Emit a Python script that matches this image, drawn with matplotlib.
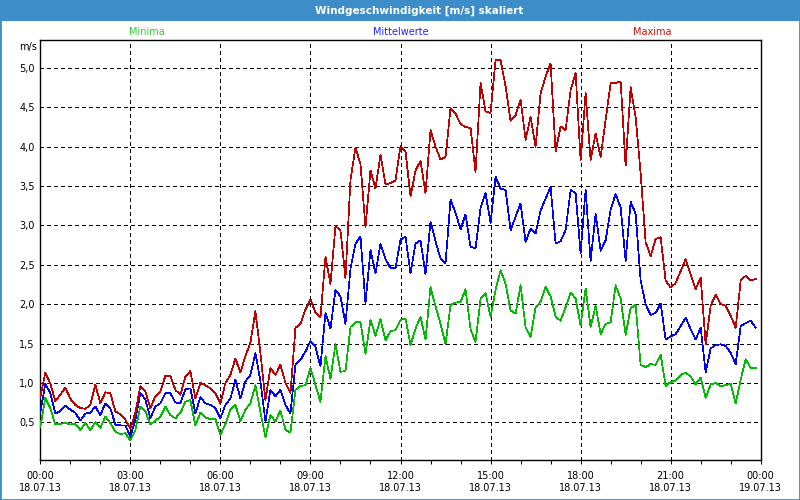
'''
Windgeschwindigkeit 18.07.13 - Minima, Mittelwerte, Maxima (10-Minuten-Werte)
'''
import numpy as np
import matplotlib.pyplot as plt
from matplotlib.patches import Rectangle

# 10-minute values, 00:00 .. 23:50
maxima = [
    0.82, 1.13, 0.99, 0.77, 0.85, 0.94, 0.80, 0.72, 0.68, 0.67,
    0.72, 0.98, 0.74, 0.88, 0.87, 0.64, 0.60, 0.53, 0.42, 0.62,
    0.96, 0.89, 0.68, 0.83, 0.89, 1.09, 1.09, 0.91, 0.85, 1.08,
    1.15, 0.80, 1.00, 0.97, 0.93, 0.87, 0.74, 1.00, 1.10, 1.31,
    1.13, 1.34, 1.51, 1.91, 1.38, 0.78, 1.19, 1.10, 1.23, 1.00,
    0.87, 1.70, 1.75, 1.93, 2.06, 1.89, 1.83, 2.60, 2.26, 2.99,
    2.94, 2.33, 3.58, 3.99, 3.78, 2.98, 3.70, 3.47, 3.90, 3.52,
    3.54, 3.57, 4.01, 3.94, 3.37, 3.70, 3.82, 3.41, 4.21, 4.00,
    3.84, 3.87, 4.49, 4.42, 4.29, 4.25, 4.24, 3.68, 4.81, 4.45,
    4.43, 5.10, 5.10, 4.77, 4.33, 4.40, 4.60, 4.09, 4.38, 4.00,
    4.68, 4.89, 5.06, 3.94, 4.26, 4.21, 4.72, 4.94, 3.83, 4.68,
    3.83, 4.17, 3.87, 4.34, 4.81, 4.81, 4.83, 3.76, 4.76, 4.38,
    3.66, 2.79, 2.61, 2.83, 2.85, 2.30, 2.21, 2.27, 2.42, 2.57,
    2.38, 2.19, 2.34, 1.49, 1.98, 2.12, 2.00, 1.98, 1.85, 1.70,
    2.30, 2.36, 2.30, 2.32,
]
mittelwerte = [
    0.62, 0.99, 0.87, 0.61, 0.64, 0.71, 0.66, 0.62, 0.52, 0.61,
    0.62, 0.70, 0.59, 0.74, 0.68, 0.47, 0.46, 0.46, 0.32, 0.53,
    0.87, 0.79, 0.55, 0.70, 0.74, 0.87, 0.87, 0.75, 0.74, 0.92,
    0.93, 0.61, 0.82, 0.74, 0.72, 0.68, 0.55, 0.72, 0.80, 1.04,
    0.80, 1.02, 1.10, 1.38, 1.02, 0.51, 0.91, 0.83, 0.91, 0.72,
    0.61, 1.23, 1.29, 1.40, 1.53, 1.46, 1.21, 1.89, 1.69, 2.18,
    2.10, 1.75, 2.45, 2.77, 2.86, 2.01, 2.69, 2.39, 2.77, 2.57,
    2.46, 2.46, 2.82, 2.86, 2.39, 2.77, 2.81, 2.38, 3.05, 2.80,
    2.58, 2.52, 3.33, 3.16, 2.95, 3.14, 2.73, 2.71, 3.22, 3.41,
    3.03, 3.62, 3.47, 3.45, 2.94, 3.11, 3.28, 2.79, 2.96, 2.90,
    3.19, 3.34, 3.49, 2.77, 2.80, 2.94, 3.45, 3.41, 2.65, 3.45,
    2.55, 3.15, 2.68, 2.81, 3.20, 3.40, 3.23, 2.55, 3.30, 3.15,
    2.30, 2.00, 1.86, 1.89, 2.01, 1.55, 1.59, 1.62, 1.72, 1.83,
    1.68, 1.55, 1.70, 1.13, 1.44, 1.48, 1.49, 1.47, 1.38, 1.24,
    1.72, 1.76, 1.79, 1.70,
]
minima = [
    0.44, 0.81, 0.68, 0.47, 0.48, 0.49, 0.47, 0.48, 0.40, 0.49,
    0.40, 0.50, 0.43, 0.57, 0.49, 0.38, 0.35, 0.36, 0.27, 0.40,
    0.70, 0.64, 0.47, 0.52, 0.57, 0.70, 0.59, 0.55, 0.62, 0.76,
    0.78, 0.46, 0.62, 0.56, 0.54, 0.54, 0.34, 0.48, 0.66, 0.72,
    0.51, 0.66, 0.74, 0.97, 0.63, 0.31, 0.59, 0.51, 0.65, 0.40,
    0.37, 0.91, 0.96, 0.97, 1.19, 0.97, 0.76, 1.34, 1.05, 1.49,
    1.14, 1.15, 1.71, 1.77, 1.77, 1.37, 1.80, 1.60, 1.81, 1.54,
    1.66, 1.67, 1.80, 1.82, 1.48, 1.69, 1.84, 1.55, 2.22, 1.97,
    1.75, 1.49, 1.99, 2.02, 2.03, 2.19, 1.68, 1.52, 2.07, 2.14,
    1.84, 2.18, 2.43, 2.26, 1.92, 1.88, 2.24, 1.71, 1.58, 1.96,
    2.03, 2.22, 2.10, 1.84, 1.79, 1.96, 2.15, 2.07, 1.73, 2.20,
    1.71, 1.98, 1.62, 1.75, 1.77, 2.24, 2.07, 1.61, 1.95, 1.99,
    1.23, 1.20, 1.24, 1.23, 1.36, 0.96, 1.01, 1.03, 1.10, 1.13,
    1.08, 0.98, 1.07, 0.81, 0.98, 1.00, 0.96, 0.97, 0.99, 0.74,
    1.04, 1.30, 1.19, 1.19,
]

hours = np.arange(len(maxima)) / 6.0

tick_hours = list(range(0, 25, 3))
tick_labels = ['00:00\n18.07.13', '03:00\n18.07.13', '06:00\n18.07.13',
               '09:00\n18.07.13', '12:00\n18.07.13', '15:00\n18.07.13',
               '18:00\n18.07.13', '21:00\n18.07.13', '00:00\n19.07.13']
y_ticks = [0.5, 1.0, 1.5, 2.0, 2.5, 3.0, 3.5, 4.0, 4.5, 5.0]
y_labels = [f'{v:.1f}'.replace('.', ',') for v in y_ticks]

bar_color = '#3d8ec8'
px = 0.72  # one pixel in points at 100 dpi
plt.rcParams['font.family'] = ['DejaVu Sans']

fig = plt.figure(figsize=(8, 5), dpi=100, facecolor='white')
ax = fig.add_axes([40.3 / 800, 40 / 500, 720.4 / 800, 420 / 500])

# title bar and frame
fig.patches.append(Rectangle((0, 1 - 21 / 500), 1, 21 / 500, transform=fig.transFigure,
                             facecolor=bar_color, edgecolor='none', zorder=0))
fig.patches.append(Rectangle((0, 0), 1, 1, transform=fig.transFigure, fill=False,
                             edgecolor=bar_color, lw=2, zorder=0))
fig.text(419 / 800, 1 - 10.5 / 500, 'Windgeschwindigkeit [m/s] skaliert', color='white',
         ha='center', va='center', fontsize=7.5, fontweight='bold')

fig.text(147 / 800, 1 - 32 / 500, 'Minima', color='#33cc33', ha='center', va='center', fontsize=7)
fig.text(401 / 800, 1 - 32 / 500, 'Mittelwerte', color='#2222ff', ha='center', va='center', fontsize=7)
fig.text(652 / 800, 1 - 32 / 500, 'Maxima', color='#cc1111', ha='center', va='center', fontsize=7)
fig.text(37 / 800, 1 - 47 / 500, 'm/s', ha='right', va='center', fontsize=7)

ax.plot(hours, minima, color='#00bb00', lw=0.5, antialiased=False, zorder=3)
ax.plot(hours, mittelwerte, color='#0000ff', lw=0.5, antialiased=False, zorder=4)
ax.plot(hours, maxima, color='#c00000', lw=0.5, antialiased=False, zorder=5)

ax.set_xlim(0, 24)
ax.set_ylim(0.02, 5.357)
ax.set_xticks(tick_hours)
ax.set_xticklabels(tick_labels, fontsize=7)
ax.set_xticks(range(0, 25), minor=True)
ax.set_yticks(y_ticks)
ax.set_yticklabels(y_labels, fontsize=7)
ax.tick_params(axis='x', which='both', direction='out', length=3, width=px, pad=5)
ax.tick_params(axis='y', length=0, pad=4)
ax.grid(True, which='major', color='black', lw=px, ls=(0, (3, 3)), antialiased=False)
for s in ax.spines.values():
    s.set_linewidth(1.0)

fig.savefig('out.png', dpi=100)
